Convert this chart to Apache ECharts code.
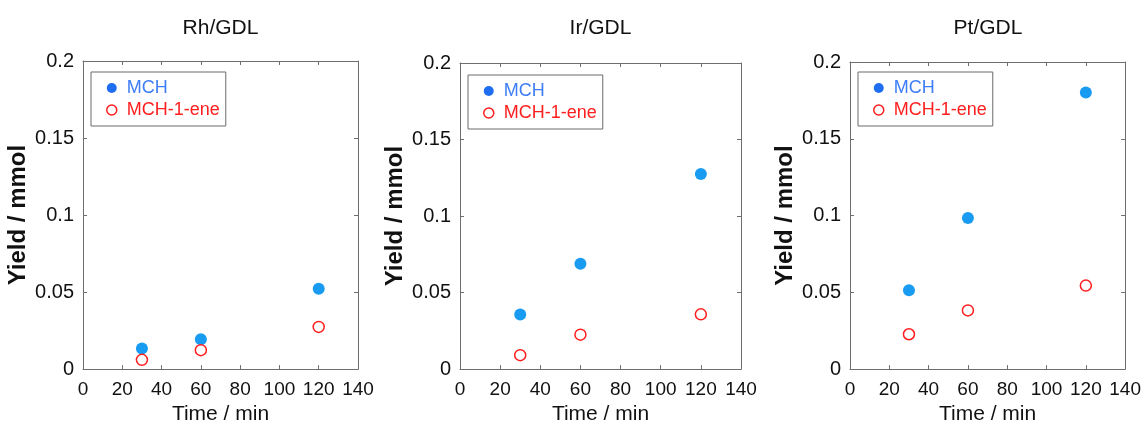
<!DOCTYPE html>
<html>
<head>
<meta charset="utf-8">
<script src="https://cdn.jsdelivr.net/npm/echarts@6/dist/echarts.min.js"></script>
<style>
html,body{margin:0;padding:0;background:#fff;}
#c{width:1144px;height:430px;}
</style>
</head>
<body>
<div id="c"></div>
<script>
// ---- data ----
const panelTitles = ['Rh/GDL', 'Ir/GDL', 'Pt/GDL'];
const times = [30, 60, 120];
const mchRh = [0.0134, 0.0194, 0.0522];
const eneRh = [0.0060, 0.0123, 0.0274];
const mchIr = [0.0356, 0.0689, 0.1275];
const eneIr = [0.0091, 0.0225, 0.0358];
const mchPt = [0.0513, 0.0984, 0.1801];
const enePt = [0.0227, 0.0382, 0.0544];
const seriesNames = ['MCH', 'MCH-1-ene'];
const xTicks = [0, 20, 40, 60, 80, 100, 120, 140];
const yTicks = [0, 0.05, 0.1, 0.15, 0.2];

const mchSets = [mchRh, mchIr, mchPt];
const eneSets = [eneRh, eneIr, enePt];

// ---- layout ----
const FONT = '"Liberation Sans", Arial, Helvetica, sans-serif';
const grids = [
  {left: 83, top: 61, width: 275, height: 309},
  {left: 460, top: 63, width: 281, height: 316},
  {left: 850, top: 62, width: 276, height: 309}
];
const legendPos = [
  {left: 91, top: 72},
  {left: 468, top: 75},
  {left: 858, top: 72}
];
const AXIS_COLOR = '#6e6e6e';
const BLUE = '#1a9bf2';
const BLUE_TEXT = '#3d7df6';
const RED = '#ff1e1e';

const option = {
  backgroundColor: '#fff',
  animation: false,
  textStyle: {fontFamily: FONT},
  title: [], grid: [], xAxis: [], yAxis: [], series: [], legend: []
};

const fmtY = v => (v === 0 ? '0' : String(+v.toFixed(2)));

grids.forEach((g, i) => {
  option.grid.push({left: g.left, top: g.top, width: g.width, height: g.height, containLabel: false});
  option.title.push({
    text: panelTitles[i],
    left: g.left + g.width / 2,
    top: 18,
    padding: 0,
    textAlign: 'center',
    textStyle: {fontFamily: FONT, fontSize: 21, fontWeight: 'normal', color: '#111'}
  });
  const xMin = xTicks[0], xMax = xTicks[xTicks.length - 1], xInt = xTicks[1] - xTicks[0];
  const yMin = yTicks[0], yMax = yTicks[yTicks.length - 1], yInt = yTicks[1] - yTicks[0];
  const axisLine = {show: true, onZero: false, lineStyle: {color: AXIS_COLOR, width: 1}};
  const axisTick = {show: true, inside: true, length: 4, lineStyle: {color: AXIS_COLOR, width: 1}};
  // bottom x
  option.xAxis.push({
    gridIndex: i, type: 'value', position: 'bottom', min: xMin, max: xMax, interval: xInt,
    axisLine, axisTick, splitLine: {show: false},
    axisLabel: {fontFamily: FONT, fontSize: 19, color: '#111', margin: 11},
    name: 'Time / min', nameLocation: 'middle', nameGap: 30,
    nameTextStyle: {fontFamily: FONT, fontSize: 21, color: '#111'}
  });
  // top x (box + ticks)
  option.xAxis.push({
    gridIndex: i, type: 'value', position: 'top', min: xMin, max: xMax, interval: xInt,
    axisLine, axisTick, splitLine: {show: false}, axisLabel: {show: false}
  });
  // left y
  option.yAxis.push({
    gridIndex: i, type: 'value', position: 'left', min: yMin, max: yMax, interval: yInt,
    axisLine, axisTick, splitLine: {show: false},
    axisLabel: {fontFamily: FONT, fontSize: 20, color: '#111', margin: 9, formatter: fmtY},
    name: 'Yield / mmol', nameLocation: 'middle', nameGap: 53,
    nameTextStyle: {fontFamily: FONT, fontSize: 24, fontWeight: 'bold', color: '#111'}
  });
  // right y
  option.yAxis.push({
    gridIndex: i, type: 'value', position: 'right', min: yMin, max: yMax, interval: yInt,
    axisLine, axisTick, splitLine: {show: false}, axisLabel: {show: false}
  });

  const xa = i * 2, ya = i * 2;
  option.series.push({
    type: 'scatter', name: seriesNames[0], xAxisIndex: xa, yAxisIndex: ya,
    symbol: 'circle', symbolSize: 12,
    itemStyle: {color: BLUE, opacity: 1},
    data: times.map((t, k) => [t, mchSets[i][k]])
  });
  option.series.push({
    type: 'scatter', name: seriesNames[1], xAxisIndex: xa, yAxisIndex: ya,
    symbol: 'circle', symbolSize: 11,
    itemStyle: {color: '#fff', borderColor: RED, borderWidth: 1.5, opacity: 1},
    data: times.map((t, k) => [t, eneSets[i][k]])
  });

  option.legend.push({
    orient: 'vertical',
    left: legendPos[i].left, top: legendPos[i].top,
    padding: [7, 6, 7, 15],
    itemGap: 4,
    itemWidth: 10, itemHeight: 10,
    borderColor: '#6a6a6a', borderWidth: 1,
    backgroundColor: '#fff',
    selectedMode: false,
    icon: 'circle',
    textStyle: {fontFamily: FONT, fontSize: 18, padding: [0, 0, 0, 5]},
    data: [
      {name: seriesNames[0], textStyle: {color: BLUE_TEXT}, itemStyle: {color: '#1f6ef2'}},
      {name: seriesNames[1], textStyle: {color: RED}, itemStyle: {color: '#fff', borderColor: RED, borderWidth: 1.5}}
    ]
  });
});

const chart = echarts.init(document.getElementById('c'), null, {renderer: 'canvas'});
chart.setOption(option);
</script>
</body>
</html>
